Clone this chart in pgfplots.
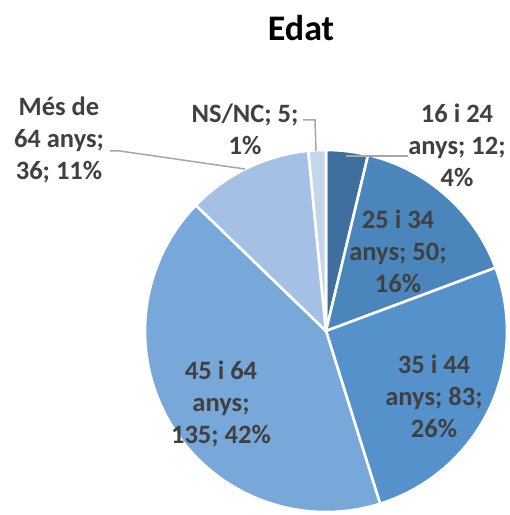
\documentclass[border=0pt]{standalone}
\usepackage{pgfplots}
\pgfplotsset{compat=1.18}
\usepackage{pgfplotstable}
\usepackage{fontspec}
\setmainfont{Carlito}

\definecolor{sl1}{HTML}{3F6F9E}
\definecolor{sl2}{HTML}{4A85BC}
\definecolor{sl3}{HTML}{5592CC}
\definecolor{sl4}{HTML}{78A7DA}
\definecolor{sl5}{HTML}{A4C0E4}
\definecolor{sl6}{HTML}{C5D5EC}
\definecolor{lab}{HTML}{404040}
\definecolor{lead}{HTML}{A6A6A6}

\tikzset{lbl/.style={font=\fontsize{26.5}{32}\selectfont\bfseries, text=lab, align=center, inner sep=0pt}}

% n = count; a1/a2 = start/end angle (clockwise from top, n*360/321)
\pgfplotstableread{
x   y   n    a1       a2       ci
326 331 12   90       76.54    1
326 331 50   76.54    20.47    2
326 331 83   20.47    -72.61   3
326 331 135  -72.61   -224.01  4
326 331 36   -224.01  -264.38  5
326 331 5    -264.38  -270     6
}\slices

\begin{document}
\begin{tikzpicture}
\begin{axis}[
    name=ax,
    x=1pt, y=1pt,
    xmin=0, xmax=510, ymin=0, ymax=515,
    y dir=reverse,
    hide axis, clip=false,
    set layers=standard, mark layer=axis background,
]
\addplot[only marks, mark=text, text mark={}, scatter,
    visualization depends on={\thisrow{a1} \as \angA},
    visualization depends on={\thisrow{a2} \as \angB},
    visualization depends on={\thisrow{ci} \as \slicecol},
    scatter/@pre marker code/.code={%
        \pgfmathtruncatemacro\ci{\slicecol}%
        \fill[fill=sl\ci, draw=white, line width=2.6pt, line join=round]
            (0pt,0pt) -- (\angA:181pt) arc[start angle=\angA, end angle=\angB, radius=181pt] -- cycle;
    },
    scatter/@post marker code/.code={},
] table[x=x, y=y] {\slices};

\node[font=\fontsize{36}{40}\selectfont\bfseries] at (axis cs:301,28) {Edat};

\draw[lead, line width=1.5pt] (axis cs:346,156) -- (axis cs:408,156);
\draw[lead, line width=1.5pt] (axis cs:110,151) -- (axis cs:120,151) -- (axis cs:245,169);
\draw[lead, line width=1.5pt] (axis cs:303,120) -- (axis cs:315,120) -- (axis cs:316,151);

\node[lbl] at (axis cs:457,145) {16 i 24\\anys; 12;\\4\%};
\node[lbl] at (axis cs:398,251) {25 i 34\\anys; 50;\\16\%};
\node[lbl] at (axis cs:434,396) {35 i 44\\anys; 83;\\26\%};
\node[lbl] at (axis cs:221,404) {45 i 64\\anys;\\135; 42\%};
\node[lbl] at (axis cs:59,140) {Més de\\64 anys;\\36; 11\%};
\node[lbl] at (axis cs:245,129) {NS/NC; 5;\\1\%};
\end{axis}
\pgfresetboundingbox
\path (ax.south west) rectangle (ax.north east);
\end{tikzpicture}
\end{document}
